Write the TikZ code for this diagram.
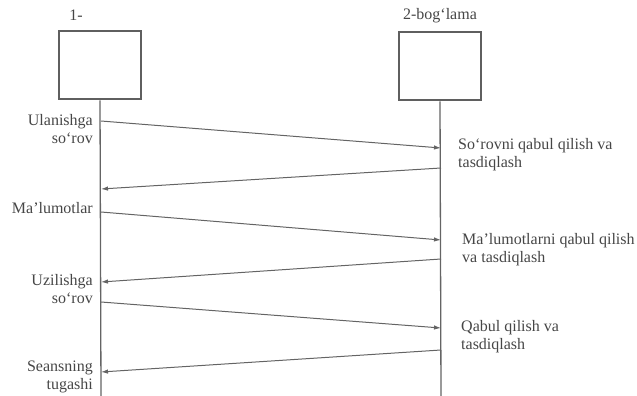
\documentclass[tikz,border=0pt]{standalone}
\usepackage{fontspec}
\setmainfont{Liberation Serif}
\usetikzlibrary{
    arrows.meta, % For arrow tips
    positioning  % For label positioning
}
\definecolor{boxgray}{RGB}{95,95,95}
\definecolor{linegray}{RGB}{100,100,100}
\definecolor{txtgray}{RGB}{70,70,70}

\begin{document}
\begin{tikzpicture}[
    x=1pt, y=-1pt,
    >={Latex[length=7pt, width=4.5pt]}, % Default arrow tip
    entity/.style={draw=boxgray, line width=2.6pt, minimum width=82pt, minimum height=68pt, inner sep=0pt},
    lifeline/.style={draw=linegray, line width=1.3pt},
    msg/.style={->, draw=linegray, line width=1pt},
    txt/.style={text=txtgray, font=\fontsize{16}{18}\selectfont, inner sep=0pt},
    leftlbl/.style={txt, align=right, anchor=east},
    rightlbl/.style={txt, align=left, anchor=west}
]
    % Canvas (keeps the margins of the reference)
    \useasboundingbox (0,0) rectangle (637,396);

    % Participants
    \node[entity] (boxA) at (100,65) {};
    \node[entity] (boxB) at (440,66) {};
    \node[txt] (nameA) at (76,15) {1-};
    \node[txt] (nameB) at (440,16) {2-bog`lama};

    % Lifelines
    \coordinate (endA) at (101,396);
    \coordinate (endB) at (441,396);
    \draw[lifeline] (boxA.south) -- (endA);
    \draw[lifeline] (boxB.south) -- (endB);

    % Points where the messages leave / reach the lifelines
    \foreach \n/\ya/\yb in {1/121/148, 2/189/168, 3/212/240, 4/282/259, 5/302/328, 6/372/350} {
        \coordinate (a\n) at (101,\ya);
        \coordinate (b\n) at (441,\yb);
    }

    % Messages
    \draw[msg] (a1) -- (b1);
    \draw[msg] (b2) -- (a2);
    \draw[msg] (a3) -- (b3);
    \draw[msg] (b4) -- (a4);
    \draw[msg] (a5) -- (b5);
    \draw[msg] (b6) -- (a6);

    % Labels on the left
    \node[leftlbl] (l1) at (93,129) {Ulanishga\\so`rov};
    \node[leftlbl] (l2) at (93,208) {Ma'lumotlar};
    \node[leftlbl] (l3) at (93,289) {Uzilishga\\so`rov};
    \node[leftlbl] (l4) at (93,377) {Seansning\\tugashi};

    % Labels on the right
    \node[rightlbl] (r1) at (458,155) {So`rovni qabul qilish va\\tasdiqlash};
    \node[rightlbl] (r2) at (462,250) {Ma'lumotlarni qabul qilish\\va tasdiqlash};
    \node[rightlbl] (r3) at (461,337) {Qabul qilish va\\tasdiqlash};

\end{tikzpicture}
\end{document}
